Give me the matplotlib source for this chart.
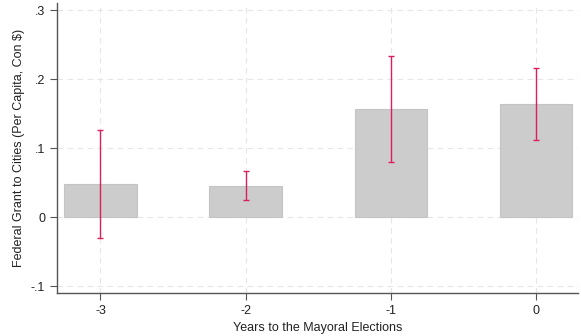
import matplotlib.pyplot as plt

plt.rcParams['font.family'] = ['Liberation Sans', 'DejaVu Sans']

# estimated effects by year relative to the mayoral election
years = [-3, -2, -1, 0]
coef = [0.048, 0.045, 0.157, 0.164]
ci_low = [-0.030, 0.025, 0.080, 0.112]
ci_high = [0.126, 0.067, 0.233, 0.216]

yticks = [-0.1, 0, 0.1, 0.2, 0.3]
ytick_labels = ["-.1", "0", ".1", ".2", ".3"]

fig = plt.figure(figsize=(5.81, 3.36), dpi=100)
ax = fig.add_axes([0.098, 0.128, 0.897, 0.862])

ax.bar(years, coef, width=0.5, color="#cccccc", edgecolor="#c4c4c4", linewidth=0.8, zorder=2)

err_low = [c - lo for c, lo in zip(coef, ci_low)]
err_high = [hi - c for c, hi in zip(coef, ci_high)]
ax.errorbar(years, coef, yerr=[err_low, err_high], fmt="none", ecolor="#dc1f5c",
            elinewidth=1.0, capsize=2.5, capthick=1.0, zorder=3)

ax.set_xlim(-3.30, 0.29)
ax.set_ylim(-0.11, 0.31)
ax.set_xticks(years)
ax.set_xticklabels([str(y) for y in years])
ax.set_yticks(yticks)
ax.set_yticklabels(ytick_labels)

ax.grid(True, color="#e6e6e6", linestyle=(0, (5, 4)), linewidth=0.8, zorder=0)
ax.set_axisbelow(True)

for s in ["top", "right"]:
    ax.spines[s].set_visible(False)
for s in ["left", "bottom"]:
    ax.spines[s].set_color("#555555")
    ax.spines[s].set_linewidth(1.0)

ax.tick_params(axis="both", colors="#555555", labelcolor="#222222", labelsize=9, length=5, width=0.8)

ax.set_xlabel("Years to the Mayoral Elections", fontsize=9, color="#222222", labelpad=4)
ax.set_ylabel("Federal Grant to Cities (Per Capita, Con $)", fontsize=9, color="#222222", labelpad=4)

fig.savefig("out.png", dpi=100)
